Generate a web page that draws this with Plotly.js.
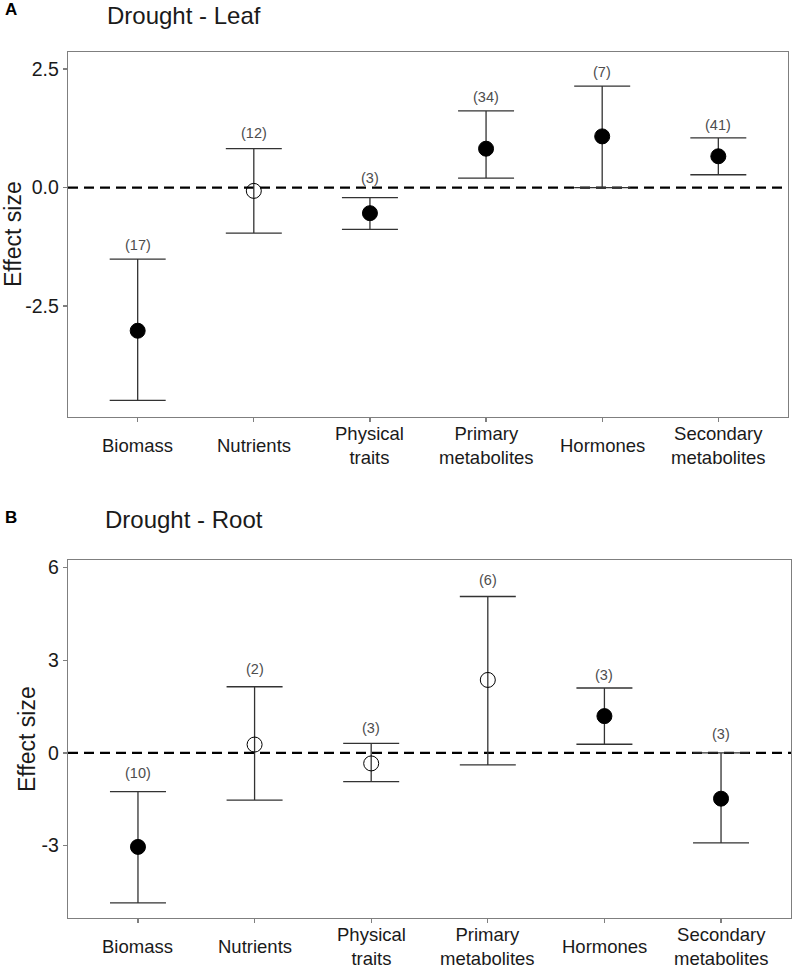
<!DOCTYPE html>
<html>
<head>
<meta charset="utf-8">
<script src="https://cdn.plot.ly/plotly-3.0.1.min.js"></script>
<style>html,body{margin:0;padding:0;background:#fff;}#chart{width:800px;height:968px;}</style>
</head>
<body>
<div id="chart"></div>
<script>
// ---- data ----
const categories = ['Biomass','Nutrients','Physical traits','Primary metabolites','Hormones','Secondary metabolites'];
const categoryLabels = ['Biomass','Nutrients','Physical<br>traits','Primary<br>metabolites','Hormones','Secondary<br>metabolites'];

const leafMean  = [-3.02, -0.07, -0.54, 0.82, 1.08, 0.66];
const leafLower = [-4.49, -0.96, -0.88, 0.20, 0.00, 0.27];
const leafUpper = [-1.51,  0.82, -0.21, 1.62, 2.14, 1.05];
const leafN     = [17, 12, 3, 34, 7, 41];
const leafSig   = [true, false, true, true, true, true];

const rootMean  = [-3.04, 0.27, -0.34, 2.36, 1.19, -1.48];
const rootLower = [-4.85, -1.53, -0.93, -0.39, 0.28, -2.91];
const rootUpper = [-1.25,  2.14,  0.31, 5.06, 2.10,  0.00];
const rootN     = [10, 2, 3, 6, 3, 3];
const rootSig   = [true, false, false, false, true, true];

const leafYTicks = [-2.5, 0, 2.5];
const leafYTickText = ['-2.5', '0.0', '2.5'];
const rootYTicks = [-3, 0, 3, 6];
const rootYTickText = ['-3', '0', '3', '6'];

// ---- layout helpers ----
const W = 800, H = 968;
const FONT = 'Liberation Sans, Arial, sans-serif';
const AX_COLOR = '#7f7f7f';
const TXT = '#1a1a1a';
// pixel offsets of the (n) labels above their upper whisker
const leafLabelShift = [14, 16, 20, 14, 14, 13];
const rootLabelShift = [18.5, 17.5, 15.5, 16, 13, 19];

function makeTrace(mean, lower, upper, sig, xa, ya) {
  return {
    type: 'scatter', mode: 'markers',
    x: categories, y: mean, xaxis: xa, yaxis: ya,
    marker: {
      color: '#000', opacity: 1,
      symbol: sig.map(s => s ? 'circle' : 'circle-open'),
      size: 15,
      line: {color: '#000', width: 1}
    },
    error_y: {
      type: 'data', symmetric: false,
      array: upper.map((u, i) => u - mean[i]),
      arrayminus: lower.map((l, i) => mean[i] - l),
      color: '#333', thickness: 1.3, width: 28
    },
    hoverinfo: 'skip', showlegend: false, cliponaxis: false
  };
}

const pA = {top: 52, bottom: 417, left: 68, right: 788};
const pB = {top: 560, bottom: 918, left: 68, right: 791};

function axisBase() {
  return {
    showline: true, mirror: true, linecolor: AX_COLOR, linewidth: 1.3,
    ticks: 'outside', ticklen: 4, tickcolor: AX_COLOR, tickwidth: 1.2,
    showgrid: false, zeroline: false, fixedrange: true
  };
}

const layout = {
  width: W, height: H,
  margin: {l: 0, r: 0, t: 0, b: 0},
  paper_bgcolor: '#fff', plot_bgcolor: '#fff',
  font: {family: FONT, color: TXT},
  showlegend: false,
  xaxis: Object.assign(axisBase(), {
    domain: [pA.left / W, pA.right / W], anchor: 'y',
    type: 'category', categoryorder: 'array', categoryarray: categories,
    range: [-0.6, 5.6], showticklabels: false
  }),
  yaxis: Object.assign(axisBase(), {
    domain: [1 - pA.bottom / H, 1 - pA.top / H], anchor: 'x',
    range: [-4.84, 2.86], tickvals: leafYTicks, ticktext: leafYTickText,
    tickfont: {size: 19.5, color: TXT, family: FONT}
  }),
  xaxis2: Object.assign(axisBase(), {
    domain: [pB.left / W, pB.right / W], anchor: 'y2',
    type: 'category', categoryorder: 'array', categoryarray: categories,
    range: [-0.6, 5.6], showticklabels: false
  }),
  yaxis2: Object.assign(axisBase(), {
    domain: [1 - pB.bottom / H, 1 - pB.top / H], anchor: 'x2',
    range: [-5.34, 6.24], tickvals: rootYTicks, ticktext: rootYTickText,
    tickfont: {size: 19.5, color: TXT, family: FONT}
  }),
  shapes: [
    {type: 'line', xref: 'x domain', yref: 'y', x0: 0, x1: 1, y0: 0, y1: 0,
     line: {color: '#000', width: 2.2, dash: '10px,6px'}, layer: 'below'},
    {type: 'line', xref: 'x2 domain', yref: 'y2', x0: 0, x1: 1, y0: 0, y1: 0,
     line: {color: '#000', width: 2.2, dash: '10px,6px'}, layer: 'below'}
  ],
  annotations: []
};

const ann = layout.annotations;
// panel letters and titles
ann.push({text: '<b>A</b>', xref: 'paper', yref: 'paper', x: 3 / W, y: 1, yshift: 2,
  xanchor: 'left', yanchor: 'top', showarrow: false, font: {size: 17, color: '#000', family: FONT}});
ann.push({text: '<b>B</b>', xref: 'paper', yref: 'paper', x: 3 / W, y: 1 - 517 / H,
  xanchor: 'left', yanchor: 'middle', showarrow: false, font: {size: 17, color: '#000', family: FONT}});
ann.push({text: 'Drought - Leaf', xref: 'paper', yref: 'paper', x: 105 / W, y: 1, yshift: 0,
  xanchor: 'left', yanchor: 'top', showarrow: false, font: {size: 24, color: TXT, family: FONT}});
ann.push({text: 'Drought - Root', xref: 'paper', yref: 'paper', x: 103 / W, y: 1 - 519 / H,
  xanchor: 'left', yanchor: 'middle', showarrow: false, font: {size: 24, color: TXT, family: FONT}});
// y titles
ann.push({text: 'Effect size', xref: 'paper', yref: 'paper', x: 12.5 / W, y: 1 - ((pA.top + pA.bottom) / 2) / H,
  xanchor: 'center', yanchor: 'middle', textangle: -90, showarrow: false, font: {size: 23, color: TXT, family: FONT}});
ann.push({text: 'Effect size', xref: 'paper', yref: 'paper', x: 27 / W, y: 1 - ((pB.top + pB.bottom) / 2) / H,
  xanchor: 'center', yanchor: 'middle', textangle: -90, showarrow: false, font: {size: 23, color: TXT, family: FONT}});

// category labels
categories.forEach((c, i) => {
  ann.push({text: categoryLabels[i], xref: 'x', yref: 'paper', x: c, y: 1 - pA.bottom / H, yshift: -28,
    xanchor: 'center', yanchor: 'middle', showarrow: false, font: {size: 18.5, color: TXT, family: FONT}});
  ann.push({text: categoryLabels[i], xref: 'x2', yref: 'paper', x: c, y: 1 - pB.bottom / H, yshift: -28,
    xanchor: 'center', yanchor: 'middle', showarrow: false, font: {size: 18.5, color: TXT, family: FONT}});
});

// sample size labels
categories.forEach((c, i) => {
  ann.push({text: '(' + leafN[i] + ')', xref: 'x', yref: 'y', x: c, y: leafUpper[i], yshift: leafLabelShift[i],
    xanchor: 'center', yanchor: 'middle', showarrow: false, font: {size: 14.5, color: '#4d4d4d', family: FONT}});
  ann.push({text: '(' + rootN[i] + ')', xref: 'x2', yref: 'y2', x: c, y: rootUpper[i], yshift: rootLabelShift[i],
    xanchor: 'center', yanchor: 'middle', showarrow: false, font: {size: 14.5, color: '#4d4d4d', family: FONT}});
});

const data = [
  makeTrace(leafMean, leafLower, leafUpper, leafSig, 'x', 'y'),
  makeTrace(rootMean, rootLower, rootUpper, rootSig, 'x2', 'y2')
];

Plotly.newPlot('chart', data, layout, {staticPlot: true, displayModeBar: false});
</script>
</body>
</html>
